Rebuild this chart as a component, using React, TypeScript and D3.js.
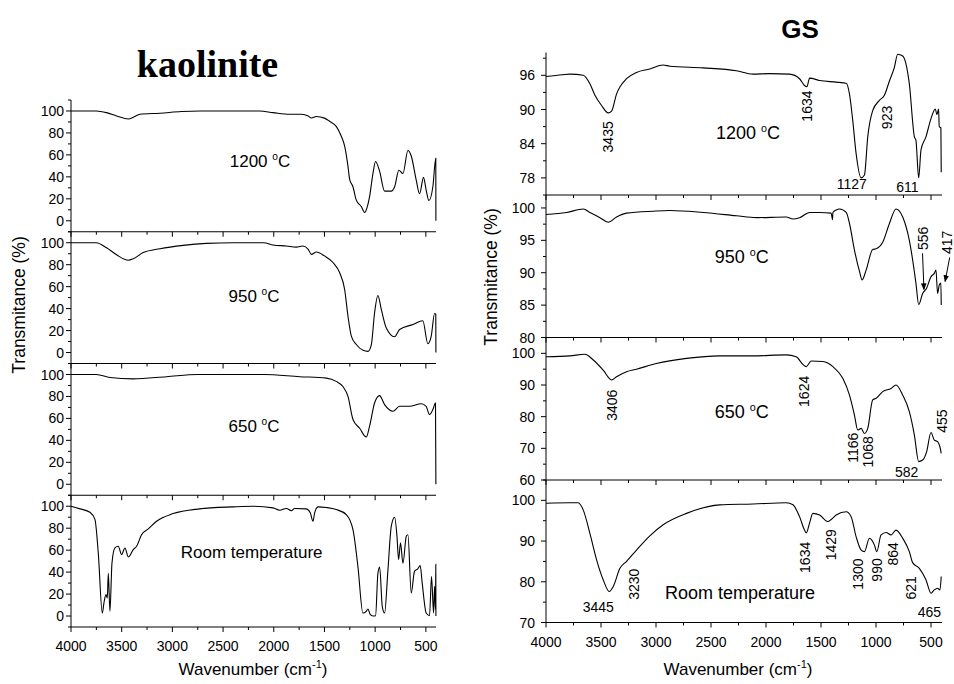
import React from "react";
import * as d3 from "d3";

type Pt = [number, number];

// kaolinite spectra: [wavenumber cm-1, transmittance %]
const kaol1200: Pt[] = [[4000,100],[3750,100],[3650,98.5],[3550,95.5],[3435,92.7],[3380,94.5],[3320,97],[3123,98],[2910,99.5],[2730,100],[2140,100],[2007,98.5],[1843,97],[1728,97],[1660,95.5],[1630,93.6],[1580,95],[1500,93.5],[1449,90.6],[1384,86],[1334,77],[1301,68],[1268,49.5],[1252,38],[1219,31],[1187,19],[1137,13],[1104,7.6],[1080,12],[1055,22],[1022,43],[996,54],[956,45],[907,27],[841,27],[808,31],[766,46],[726,43],[677,64],[644,59],[595,37],[562,24.6],[523,39.5],[497,28],[470,18.5],[431,31],[402,57],[401,0]];
const kaol950: Pt[] = [[4000,100],[3750,100],[3649,95.4],[3550,89],[3435,84],[3386,85.4],[3288,91],[3123,94.5],[2894,97.6],[2664,99.4],[2400,100],[2100,100],[2007,98],[1876,97],[1777,96],[1712,97],[1660,94],[1630,89.4],[1580,91.5],[1500,88],[1416,82],[1350,72.6],[1301,57.4],[1268,33],[1235,15],[1186,7.3],[1120,2],[1071,1],[1038,7],[1006,36],[973,52],[940,39.5],[891,22.5],[808,14.3],[759,21],[628,25.5],[530,29],[480,8],[447,15],[414,35.5],[402,35],[401,0]];
const kaol650: Pt[] = [[4000,100],[3750,100],[3616,97.3],[3386,96],[3058,98],[2750,100],[2100,100],[1744,98],[1482,96.7],[1384,93.7],[1318,89],[1268,80],[1219,59],[1153,51],[1088,43],[1055,53],[1006,74],[957,80.7],[907,72.5],[825,66.5],[759,71],[661,71],[546,73.4],[497,71],[464,63.4],[431,68],[405,74],[401,0]];
const kaolRT: Pt[] = [[4000,100],[3911,97.6],[3813,94.5],[3764,88],[3731,57.4],[3691,2.7],[3675,12],[3655,19.5],[3642,16.4],[3632,39],[3616,4.3],[3596,48],[3567,62],[3534,63.5],[3501,56],[3468,62],[3435,53.8],[3386,60.5],[3353,63.5],[3304,74],[3238,79.3],[3156,86.3],[2992,93.3],[2730,97.6],[2401,99.4],[2204,100],[2007,98.5],[1942,96.4],[1876,98],[1827,96],[1794,98],[1679,97.6],[1640,94],[1613,86.3],[1597,94],[1564,99.4],[1482,98.8],[1384,97],[1285,92.4],[1219,78.7],[1170,45],[1121,2.7],[1088,4.3],[1071,6.4],[1048,1.2],[1022,0],[996,0.3],[973,39],[956,44.7],[930,8.8],[907,2.7],[874,42],[841,81.8],[808,90],[785,72.6],[769,51.4],[750,66.6],[726,48],[693,72.6],[677,74],[644,21],[612,40.7],[579,43],[556,46],[536,30],[497,2.7],[464,0.3],[444,36],[424,2.7],[414,27],[405,6],[402,47],[401,0]];

// GS spectra
const gs1200: Pt[] = [[4000,95.8],[3850,96.1],[3782,96.2],[3661,96],[3601,94.5],[3555,92.5],[3495,90.7],[3434,89.4],[3404,89.7],[3359,92.7],[3268,95.4],[3177,96.5],[3056,97.1],[2935,97.8],[2875,97.6],[2572,97.3],[2270,96.8],[2118,96.2],[1967,96.3],[1786,96.2],[1695,95.4],[1650,94.2],[1628,94],[1604,95.5],[1513,95.1],[1362,94.8],[1271,94.6],[1241,92.7],[1211,88],[1181,82.3],[1135,78],[1105,78.5],[1075,85.2],[1030,89.8],[969,91.6],[924,92.5],[878,95],[833,97.4],[803,99.7],[757,99.4],[697,94.5],[651,85.2],[637,84.6],[612,78],[591,82.9],[546,85.2],[500,88.4],[461,90.1],[446,89.1],[431,90.1],[425,87],[410,86.8],[407,79]];
const gs950: Pt[] = [[4000,99],[3812,99.3],[3661,99.85],[3601,99.3],[3510,98.5],[3434,97.8],[3359,98.6],[3268,99.2],[3026,99.5],[2875,99.6],[2572,99.3],[2270,98.8],[2088,98.5],[1816,98.6],[1755,98.3],[1695,98.5],[1604,99.3],[1513,99.3],[1408,99.2],[1395,98.2],[1392,99.3],[1362,99.7],[1332,99.85],[1271,99.3],[1241,97.6],[1196,93.5],[1150,90.2],[1126,88.9],[1090,90.4],[1030,93.6],[999,93.7],[939,94.7],[878,97.6],[818,99.85],[757,98.6],[697,95],[637,88.4],[612,85.1],[576,86.8],[540,87.6],[500,89.4],[470,89.9],[455,90.4],[440,86.8],[425,88.1],[410,88.4],[407,85]];
const gs650: Pt[] = [[4000,98.9],[3782,99.2],[3646,99.7],[3570,97.9],[3480,94.7],[3404,91.6],[3359,92.6],[3268,94.2],[3177,95],[2996,96.8],[2723,98.4],[2421,99.2],[2118,99.2],[1816,99.5],[1725,98.9],[1665,96.5],[1634,95.8],[1589,97.6],[1483,97.4],[1392,95.8],[1302,92.1],[1241,86.8],[1196,80.5],[1166,75.8],[1135,76.3],[1105,74.7],[1075,76.3],[1030,85.3],[999,85.8],[939,87.9],[863,88.9],[818,90],[757,86.8],[697,81.6],[651,74.2],[612,65.8],[576,66.3],[540,68.9],[500,75],[470,72.6],[440,72.1],[419,70.5],[407,68.4]];
const gsRT: Pt[] = [[4000,99.3],[3782,99.4],[3707,99.4],[3661,97.6],[3601,91.9],[3540,85.4],[3480,80.5],[3425,77.6],[3389,78.8],[3328,83.3],[3268,85],[3177,87.8],[3056,91.3],[2935,94],[2723,96.8],[2421,98.9],[2118,99.1],[1816,99.4],[1755,98.9],[1695,96],[1650,92.7],[1634,92],[1604,94.4],[1574,96.8],[1513,96.4],[1438,94.8],[1407,95.3],[1362,96.4],[1271,97.2],[1226,96],[1181,91.1],[1135,87.8],[1105,87.4],[1060,90.7],[1014,89],[993,87.4],[954,91.5],[908,92.1],[863,91.5],[818,92.7],[757,90.7],[697,87.4],[667,84.7],[606,83.3],[546,80.5],[500,77.2],[470,78],[440,78.4],[419,78],[407,81.3]];

const xMajor = d3.range(500, 4001, 500);
const xMinor = d3.range(750, 4000, 500);

// peak labels: text, wavenumber, transmittance, rotated
type Ann = { t: string; w: number; v: number; r?: boolean };
const gs1200Ann: Ann[] = [
  { t: "3435", w: 3434, v: 85.2, r: true }, { t: "1634", w: 1625, v: 90.6, r: true },
  { t: "923", w: 903, v: 88.6, r: true }, { t: "1127", w: 1221, v: 77 }, { t: "611", w: 715, v: 76.4 },
];
const gs950Ann: Ann[] = [{ t: "556", w: 570, v: 95.3, r: true }, { t: "417", w: 358, v: 94.7, r: true }];
const gs950Arrows = [[[577, 93], [564, 87.4]], [[330, 92.35], [372, 88.65]]];
const gs650Ann: Ann[] = [
  { t: "3406", w: 3403, v: 83.6, r: true }, { t: "1624", w: 1652, v: 88, r: true },
  { t: "1166", w: 1206, v: 70.2, r: true }, { t: "1068", w: 1070, v: 68.9, r: true },
  { t: "582", w: 721, v: 62.6 }, { t: "455", w: 403, v: 78.6, r: true },
];
const gsRTAnn: Ann[] = [
  { t: "3445", w: 3525, v: 73.9 }, { t: "3230", w: 3200, v: 79.4, r: true },
  { t: "1634", w: 1645, v: 86, r: true }, { t: "1429", w: 1409, v: 89.1, r: true },
  { t: "1300", w: 1161, v: 81.9, r: true }, { t: "990", w: 988, v: 82.9, r: true },
  { t: "864", w: 843, v: 86.85, r: true }, { t: "621", w: 685, v: 78.5, r: true },
  { t: "465", w: 515, v: 72.7 },
];

const SANS = "'Liberation Sans', Arial, sans-serif";

function Cond({ name, deg }: { name: string; deg: boolean }) {
  if (!deg) return <>{name}</>;
  return (
    <>
      {name + " "}
      <tspan dy={-7} fontSize="0.6em">o</tspan>
      <tspan dy={7}>C</tspan>
    </>
  );
}

type PanelProps = {
  x0: number; x1: number; top: number; h: number;
  domain: [number, number]; major: number[]; minor: number[];
  data: Pt[]; cond: { name: string; deg: boolean; w: number; v: number; size: number };
  ann?: Ann[]; arrows?: number[][][]; xLabels?: boolean; ylabOff: number;
};

function Panel(p: PanelProps) {
  const x = d3.scaleLinear().domain([4000, 400]).range([p.x0, p.x1]);
  const y = d3.scaleLinear().domain(p.domain).range([p.top + p.h, p.top]);
  const line = d3.line<Pt>().x(d => x(d[0])).y(d => y(d[1])).curve(d3.curveMonotoneX);
  const bottom = p.top + p.h;
  return (
    <g>
      <path d={line(p.data) || ""} fill="none" stroke="#000" strokeWidth={1.1} />
      <line x1={p.x0} x2={p.x0} y1={p.top} y2={bottom} stroke="#000" />
      <line x1={p.x0} x2={p.x1} y1={bottom} y2={bottom} stroke="#000" />
      {xMajor.map(t => <line key={"xM" + t} x1={x(t)} x2={x(t)} y1={bottom} y2={bottom + 5} stroke="#000" />)}
      {xMinor.map(t => <line key={"xm" + t} x1={x(t)} x2={x(t)} y1={bottom} y2={bottom + 3} stroke="#000" />)}
      {p.major.map(t => (
        <g key={"yM" + t}>
          <line x1={p.x0 - 5} x2={p.x0} y1={y(t)} y2={y(t)} stroke="#000" />
          <text x={p.x0 - p.ylabOff} y={y(t)} dy="0.36em" textAnchor="end" fontSize={14}>{t}</text>
        </g>
      ))}
      {p.minor.map(t => <line key={"ym" + t} x1={p.x0 - 3} x2={p.x0} y1={y(t)} y2={y(t)} stroke="#000" />)}
      {p.xLabels && xMajor.map(t => (
        <text key={"xl" + t} x={x(t)} y={bottom + 19} dy="0.36em" textAnchor="middle" fontSize={14}>{t}</text>
      ))}
      <text x={x(p.cond.w)} y={y(p.cond.v)} dy="0.36em" textAnchor="middle" fontSize={p.cond.size}>
        <Cond name={p.cond.name} deg={p.cond.deg} />
      </text>
      {(p.ann || []).map((a, i) => (
        <text key={"a" + i} transform={`translate(${x(a.w)},${y(a.v)})${a.r ? " rotate(-90)" : ""}`}
          dy="0.36em" textAnchor="middle" fontSize={14}>{a.t}</text>
      ))}
      {(p.arrows || []).map((ar, i) => (
        <line key={"ar" + i} x1={x(ar[0][0])} y1={y(ar[0][1])} x2={x(ar[1][0])} y2={y(ar[1][1])}
          stroke="#000" strokeWidth={1} markerEnd="url(#arrow)" />
      ))}
    </g>
  );
}

export default function App() {
  const lx0 = 71, lx1 = 436, lTop = 100, lh = 131.75;
  const rx0 = 546, rx1 = 942, rTop = 52.5, rh = 142.5;
  const lt = [0, 20, 40, 60, 80, 100];
  const lm = [-10, 10, 30, 50, 70, 90, 110];
  return (
    <svg width={954} height={684} style={{ position: "absolute", left: 0, top: 0, background: "#fff" }}
      fontFamily={SANS}>
      <defs>
        <marker id="arrow" viewBox="0 0 10 10" refX={9} refY={5} markerWidth={7} markerHeight={7} orient="auto">
          <path d="M0,1 L10,5 L0,9 z" fill="#000" />
        </marker>
      </defs>
      <text x={207.5} y={77} textAnchor="middle" fontFamily="'Liberation Serif', 'Times New Roman', serif"
        fontWeight="bold" fontSize={38}>kaolinite</text>
      <text x={800} y={37.5} textAnchor="middle" fontWeight="bold" fontSize={26}>GS</text>

      <Panel x0={lx0} x1={lx1} top={lTop} h={lh} domain={[-10, 110]} major={lt} minor={lm} data={kaol1200}
        cond={{ name: "1200", deg: true, w: 2136, v: 54.8, size: 17 }} ylabOff={7} />
      <Panel x0={lx0} x1={lx1} top={lTop + lh} h={lh} domain={[-10, 110]} major={lt} minor={lm} data={kaol950}
        cond={{ name: "950", deg: true, w: 2195, v: 51.4, size: 17 }} ylabOff={7} />
      <Panel x0={lx0} x1={lx1} top={lTop + 2 * lh} h={lh} domain={[-10, 110]} major={lt} minor={lm} data={kaol650}
        cond={{ name: "650", deg: true, w: 2195, v: 53.2, size: 17 }} ylabOff={7} />
      <Panel x0={lx0} x1={lx1} top={lTop + 3 * lh} h={lh} domain={[-10, 110]} major={lt} minor={lm} data={kaolRT}
        cond={{ name: "Room temperature", deg: false, w: 2218, v: 58.6, size: 17 }} ylabOff={7} xLabels />

      <Panel x0={rx0} x1={rx1} top={rTop} h={rh} domain={[75, 100]} major={[78, 84, 90, 96]} minor={[75, 81, 87, 93, 99]}
        data={gs1200} cond={{ name: "1200", deg: true, w: 2164, v: 85.9, size: 18 }} ann={gs1200Ann} ylabOff={11} />
      <Panel x0={rx0} x1={rx1} top={rTop + rh} h={rh} domain={[80, 102]} major={[80, 85, 90, 95, 100]}
        minor={[82.5, 87.5, 92.5, 97.5]} data={gs950} cond={{ name: "950", deg: true, w: 2221, v: 92.55, size: 18 }}
        ann={gs950Ann} arrows={gs950Arrows} ylabOff={11} />
      <Panel x0={rx0} x1={rx1} top={rTop + 2 * rh} h={rh} domain={[60, 105]} major={[60, 70, 80, 90, 100]}
        minor={[65, 75, 85, 95, 105]} data={gs650} cond={{ name: "650", deg: true, w: 2221, v: 81.7, size: 18 }}
        ann={gs650Ann} ylabOff={11} />
      <Panel x0={rx0} x1={rx1} top={rTop + 3 * rh} h={rh} domain={[70, 105]} major={[70, 80, 90, 100]}
        minor={[75, 85, 95, 105]} data={gsRT} cond={{ name: "Room temperature", deg: false, w: 2236, v: 77.4, size: 18 }}
        ann={gsRTAnn} ylabOff={11} xLabels />

      <text transform="translate(19,305) rotate(-90)" textAnchor="middle" dy="0.36em" fontSize={17.5}>Transmitance (%)</text>
      <text transform="translate(491,277) rotate(-90)" textAnchor="middle" dy="0.36em" fontSize={17.5}>Transmitance (%)</text>
      {[253, 738].map(cx => (
        <text key={cx} x={cx} y={675} textAnchor="middle" fontSize={17}>
          Wavenumber (cm<tspan dy={-7} fontSize={11}>-1</tspan><tspan dy={7}>)</tspan>
        </text>
      ))}
    </svg>
  );
}
